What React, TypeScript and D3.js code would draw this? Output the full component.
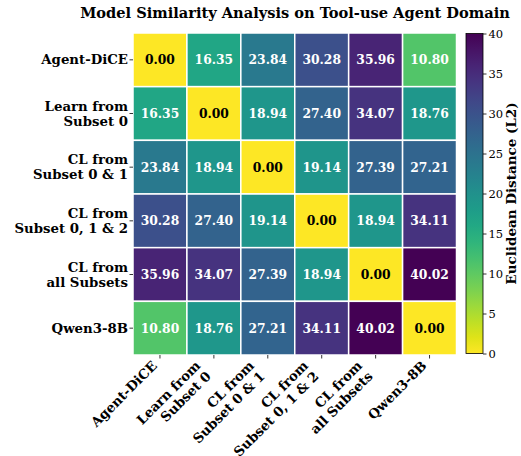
import React, { useRef, useEffect } from 'react';
import * as d3 from 'd3';

// Model labels (multi-line)
const models: string[][] = [
  ['Agent-DiCE'],
  ['Learn from', 'Subset 0'],
  ['CL from', 'Subset 0 & 1'],
  ['CL from', 'Subset 0, 1 & 2'],
  ['CL from', 'all Subsets'],
  ['Qwen3-8B'],
];

// Distance matrix (L2)
const distances: number[][] = [
  [0.0, 16.35, 23.84, 30.28, 35.96, 10.8],
  [16.35, 0.0, 18.94, 27.4, 34.07, 18.76],
  [23.84, 18.94, 0.0, 19.14, 27.39, 27.21],
  [30.28, 27.4, 19.14, 0.0, 18.94, 34.11],
  [35.96, 34.07, 27.39, 18.94, 0.0, 40.02],
  [10.8, 18.76, 27.21, 34.11, 40.02, 0.0],
];

const colorTicks = [0, 5, 10, 15, 20, 25, 30, 35, 40];

const W = 521;
const H = 456;
const FONT = '"DejaVu Serif", serif';

const App = () => {
  const svgRef = useRef<SVGSVGElement>(null);

  useEffect(() => {
    const svg = d3.select(svgRef.current);
    svg.selectAll('*').remove();

    const left = 133, top = 33, right = 456.5, bottom = 355;
    const idx = d3.range(models.length);
    const x = d3.scaleBand<number>().domain(idx).range([left, right]);
    const y = d3.scaleBand<number>().domain(idx).range([top, bottom]);
    const color = d3.scaleSequential((t: number) => d3.interpolateViridis(1 - t)).domain([0, 40]).clamp(true);

    // title
    svg.append('text')
      .attr('x', 295).attr('y', 17.5)
      .attr('text-anchor', 'middle')
      .style('font-family', FONT).style('font-weight', 'bold').style('font-size', '14.6px')
      .text('Model Similarity Analysis on Tool-use Agent Domain');

    // cells
    const cells = svg.append('g');
    distances.forEach((row, i) => {
      row.forEach((v, j) => {
        cells.append('rect')
          .attr('x', x(j)!).attr('y', y(i)!)
          .attr('width', x.bandwidth()).attr('height', y.bandwidth())
          .attr('fill', color(v))
          .attr('stroke', '#fff').attr('stroke-width', 1.5);
        cells.append('text')
          .attr('x', x(j)! + x.bandwidth() / 2)
          .attr('y', y(i)! + y.bandwidth() / 2)
          .attr('dy', '0.36em')
          .attr('text-anchor', 'middle')
          .style('font-family', FONT).style('font-weight', 'bold').style('font-size', '12.3px')
          .attr('fill', v < 5 ? '#000' : '#fff')
          .text(v.toFixed(2));
      });
    });

    const lh = 15;
    const labelSize = '13.3px';
    // y labels
    models.forEach((lines, i) => {
      const cy = y(i)! + y.bandwidth() / 2;
      svg.append('line')
        .attr('x1', left - 3.5).attr('x2', left)
        .attr('y1', cy).attr('y2', cy)
        .attr('stroke', '#000').attr('stroke-width', 0.8);
      const t = svg.append('text')
        .attr('text-anchor', 'end')
        .style('font-family', FONT).style('font-weight', 'bold').style('font-size', labelSize);
      lines.forEach((ln, k) => {
        t.append('tspan')
          .attr('x', left - 5)
          .attr('y', cy + (k - (lines.length - 1) / 2) * lh + 4.6)
          .text(ln);
      });
    });

    // x labels
    models.forEach((lines, j) => {
      const cx = x(j)! + x.bandwidth() / 2;
      svg.append('line')
        .attr('x1', cx).attr('x2', cx)
        .attr('y1', bottom).attr('y2', bottom + 3.5)
        .attr('stroke', '#000').attr('stroke-width', 0.8);
      const g = svg.append('g')
        .attr('transform', `translate(${cx},${bottom + 5 + 0.707 * lines.length * lh - 2}) rotate(-45)`);
      const t = g.append('text')
        .attr('text-anchor', 'end')
        .style('font-family', FONT).style('font-weight', 'bold').style('font-size', labelSize);
      lines.forEach((ln, k) => {
        t.append('tspan')
          .attr('x', 0)
          .attr('y', (k - (lines.length - 1)) * lh - 3)
          .text(ln);
      });
    });

    // colorbar
    const cbX = 466, cbW = 17, cbTop = 33.5, cbBottom = 353.5;
    const cbScale = d3.scaleLinear().domain([0, 40]).range([cbBottom, cbTop]);
    const defs = svg.append('defs');
    const grad = defs.append('linearGradient')
      .attr('id', 'cb-grad')
      .attr('x1', 0).attr('y1', 1).attr('x2', 0).attr('y2', 0);
    d3.range(0, 1.0001, 0.05).forEach((t) => {
      grad.append('stop')
        .attr('offset', `${t * 100}%`)
        .attr('stop-color', color(t * 40));
    });
    svg.append('rect')
      .attr('x', cbX).attr('y', cbTop)
      .attr('width', cbW).attr('height', cbBottom - cbTop)
      .attr('fill', 'url(#cb-grad)')
      .attr('stroke', '#000').attr('stroke-width', 0.8);
    const axis = d3.axisRight(cbScale).tickValues(colorTicks).tickSize(3.5).tickPadding(2);
    const ag = svg.append('g')
      .attr('transform', `translate(${cbX + cbW},0)`)
      .call(axis);
    ag.select('.domain').remove();
    ag.selectAll('line').attr('stroke-width', 0.8);
    ag.selectAll('text')
      .style('font-family', FONT).style('font-size', '11.5px').attr('fill', '#000');

    svg.append('text')
      .attr('transform', `translate(${516},${(cbTop + cbBottom) / 2}) rotate(-90)`)
      .attr('text-anchor', 'middle')
      .style('font-family', FONT).style('font-weight', 'bold').style('font-size', '13.5px')
      .text('Euclidean Distance (L2)');
  }, []);

  return (
    <svg
      ref={svgRef}
      width={W}
      height={H}
      style={{ position: 'absolute', left: 0, top: 0, display: 'block', background: '#fff' }}
    />
  );
};

export default App;
